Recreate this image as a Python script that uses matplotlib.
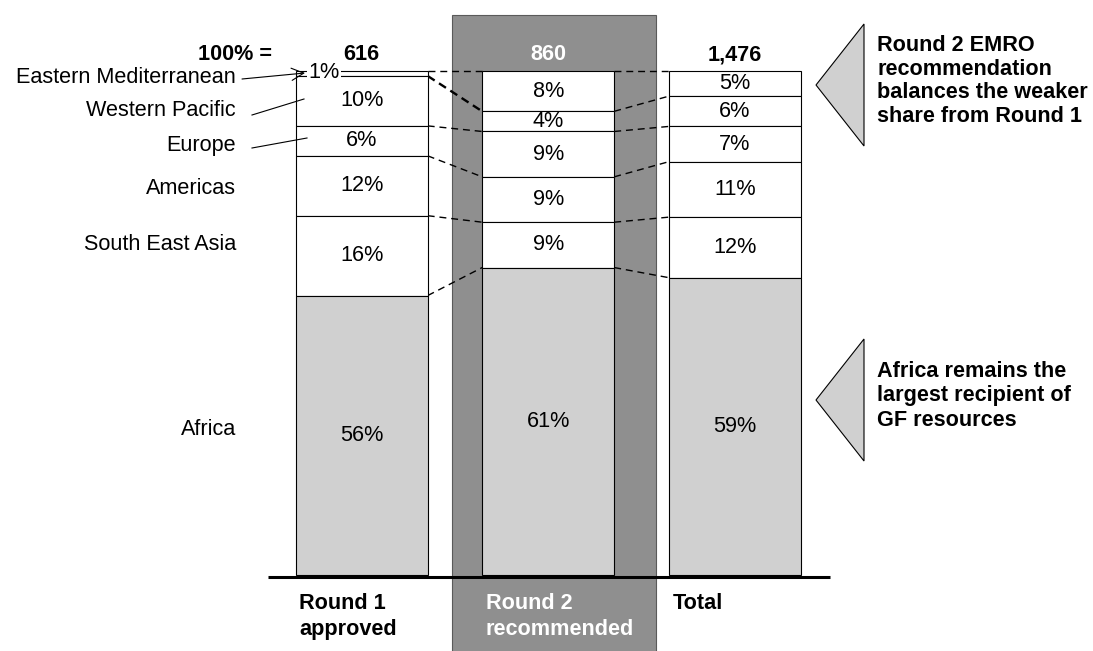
import matplotlib.pyplot as plt
import numpy as np
from matplotlib.patches import Polygon, Rectangle

plt.rcParams['font.family'] = ['Liberation Sans', 'DejaVu Sans']
FS = 15.6

# data (top -> bottom of each stack)
regions = ["Eastern Mediterranean", "Western Pacific", "Europe", "Americas",
           "South East Asia", "Africa"]
columns = ["Round 1\napproved", "Round 2\nrecommended", "Total"]
totals = ["616", "860", "1,476"]
round1 = [1, 10, 6, 12, 16, 56]
round2 = [8, 4, 9, 9, 9, 61]
total = [5, 6, 7, 11, 12, 59]
shares = [round1, round2, total]

notes = ["Round 2 EMRO\nrecommendation\nbalances the weaker\nshare from Round 1",
         "Africa remains the\nlargest recipient of\nGF resources"]

# layout: pixel position of x=0 / y=0 and pixel size of one unit
X0, Y0, SX, SY = 361.7, 575.0, 186.5, 5.04
W = 0.708


def px(x, y):
    return ((x - X0) / SX, (Y0 - y) / SY)


def stack(vals):
    v = np.array(vals[::-1], float)
    v = v / v.sum() * 100
    b = np.concatenate([[0], np.cumsum(v)[:-1]])
    return v[::-1], b[::-1]


fig = plt.figure(figsize=(10.93, 6.51), dpi=100)
ax = fig.add_axes([0, 0, 1, 1])
x_lo, y_lo = px(0, 651)
x_hi, y_hi = px(1093, 0)
ax.set_xlim(x_lo, x_hi)
ax.set_ylim(y_lo, y_hi)
ax.axis('off')

# dark band behind round 2
bx0, by1 = px(452.3, 15)
bx1, _ = px(656, 0)
ax.add_patch(Rectangle((bx0, y_lo - 5), bx1 - bx0, by1 - y_lo + 5,
                       facecolor='#8f8f8f', edgecolor='#5a5a5a', lw=0.8, zorder=1))

stacks = [stack(s) for s in shares]
colors = ['white'] * 5 + ['#d0d0d0']

for ci, (h, b) in enumerate(stacks):
    ax.bar(ci, h, bottom=b, width=W, color=colors, edgecolor='black',
           lw=0.8, zorder=3)
    for k, v in enumerate(shares[ci]):
        if ci == 0 and k == 0:
            continue
        ax.text(ci, b[k] + h[k] / 2, f"{v}%", ha='center', va='center',
                fontsize=FS, zorder=4)
    ax.text(ci, px(0, 55)[1], totals[ci], ha='center', va='center',
            fontsize=FS, fontweight='bold',
            color='white' if ci == 1 else 'black', zorder=4)
    ax.text(ci - W / 2 + 0.02, px(0, 593)[1], columns[ci], ha='left', va='top',
            fontsize=FS, fontweight='bold', linespacing=1.3,
            color='white' if ci == 1 else 'black', zorder=4)

# dashed connectors between matching segment boundaries
for ci in range(2):
    ha, ba = stacks[ci]
    hb, bb = stacks[ci + 1]
    for k in range(6):
        bold = (ci == 0 and k == 1)
        ax.plot([ci + W / 2, ci + 1 - W / 2], [ba[k] + ha[k], bb[k] + hb[k]],
                color='black', lw=1.7 if bold else 1.0,
                dashes=(3.5, 2.2) if bold else (5, 3.5), zorder=2)

# baseline
ax.plot([px(267.7, 0)[0], px(830, 0)[0]], [px(0, 577)[1]] * 2,
        color='black', lw=2.2, solid_capstyle='butt', zorder=5)

ax.text(*px(272, 55), "100% =", ha='right', va='center', fontsize=FS,
        fontweight='bold')

# region labels on the left
label_y = [78, 111, 146, 189, 245, 430]
for name, yy in zip(regions, label_y):
    ax.text(*px(236, yy), name, ha='right', va='center', fontsize=FS)

ax.text(*px(324, 73), f"{round1[0]}%", ha='center', va='center', fontsize=FS,
        bbox=dict(facecolor='white', edgecolor='none', pad=1.0), zorder=5)
ax.annotate('', xy=px(305, 73), xytext=px(242, 79),
            arrowprops=dict(arrowstyle='->', lw=0.8, shrinkA=0, shrinkB=0,
                            mutation_scale=22), zorder=7)
ax.plot(*zip(px(252, 115), px(304, 99)), color='black', lw=0.8, zorder=6)
ax.plot(*zip(px(252, 148), px(307, 138)), color='black', lw=0.8, zorder=6)

# callouts on the right
for (ty, tip), note, ls in zip([(24, 85), (339, 400)], notes, [1.18, 1.2]):
    span = tip - ty
    ax.add_patch(Polygon([px(864, ty), px(816, tip), px(864, tip + span)],
                         closed=True, facecolor='#d0d0d0', edgecolor='black',
                         lw=0.8, zorder=3))
    ax.text(*px(877, tip - 4), note, ha='left', va='center', fontsize=FS,
            fontweight='bold', linespacing=ls)

fig.savefig('out.png', dpi=100)
